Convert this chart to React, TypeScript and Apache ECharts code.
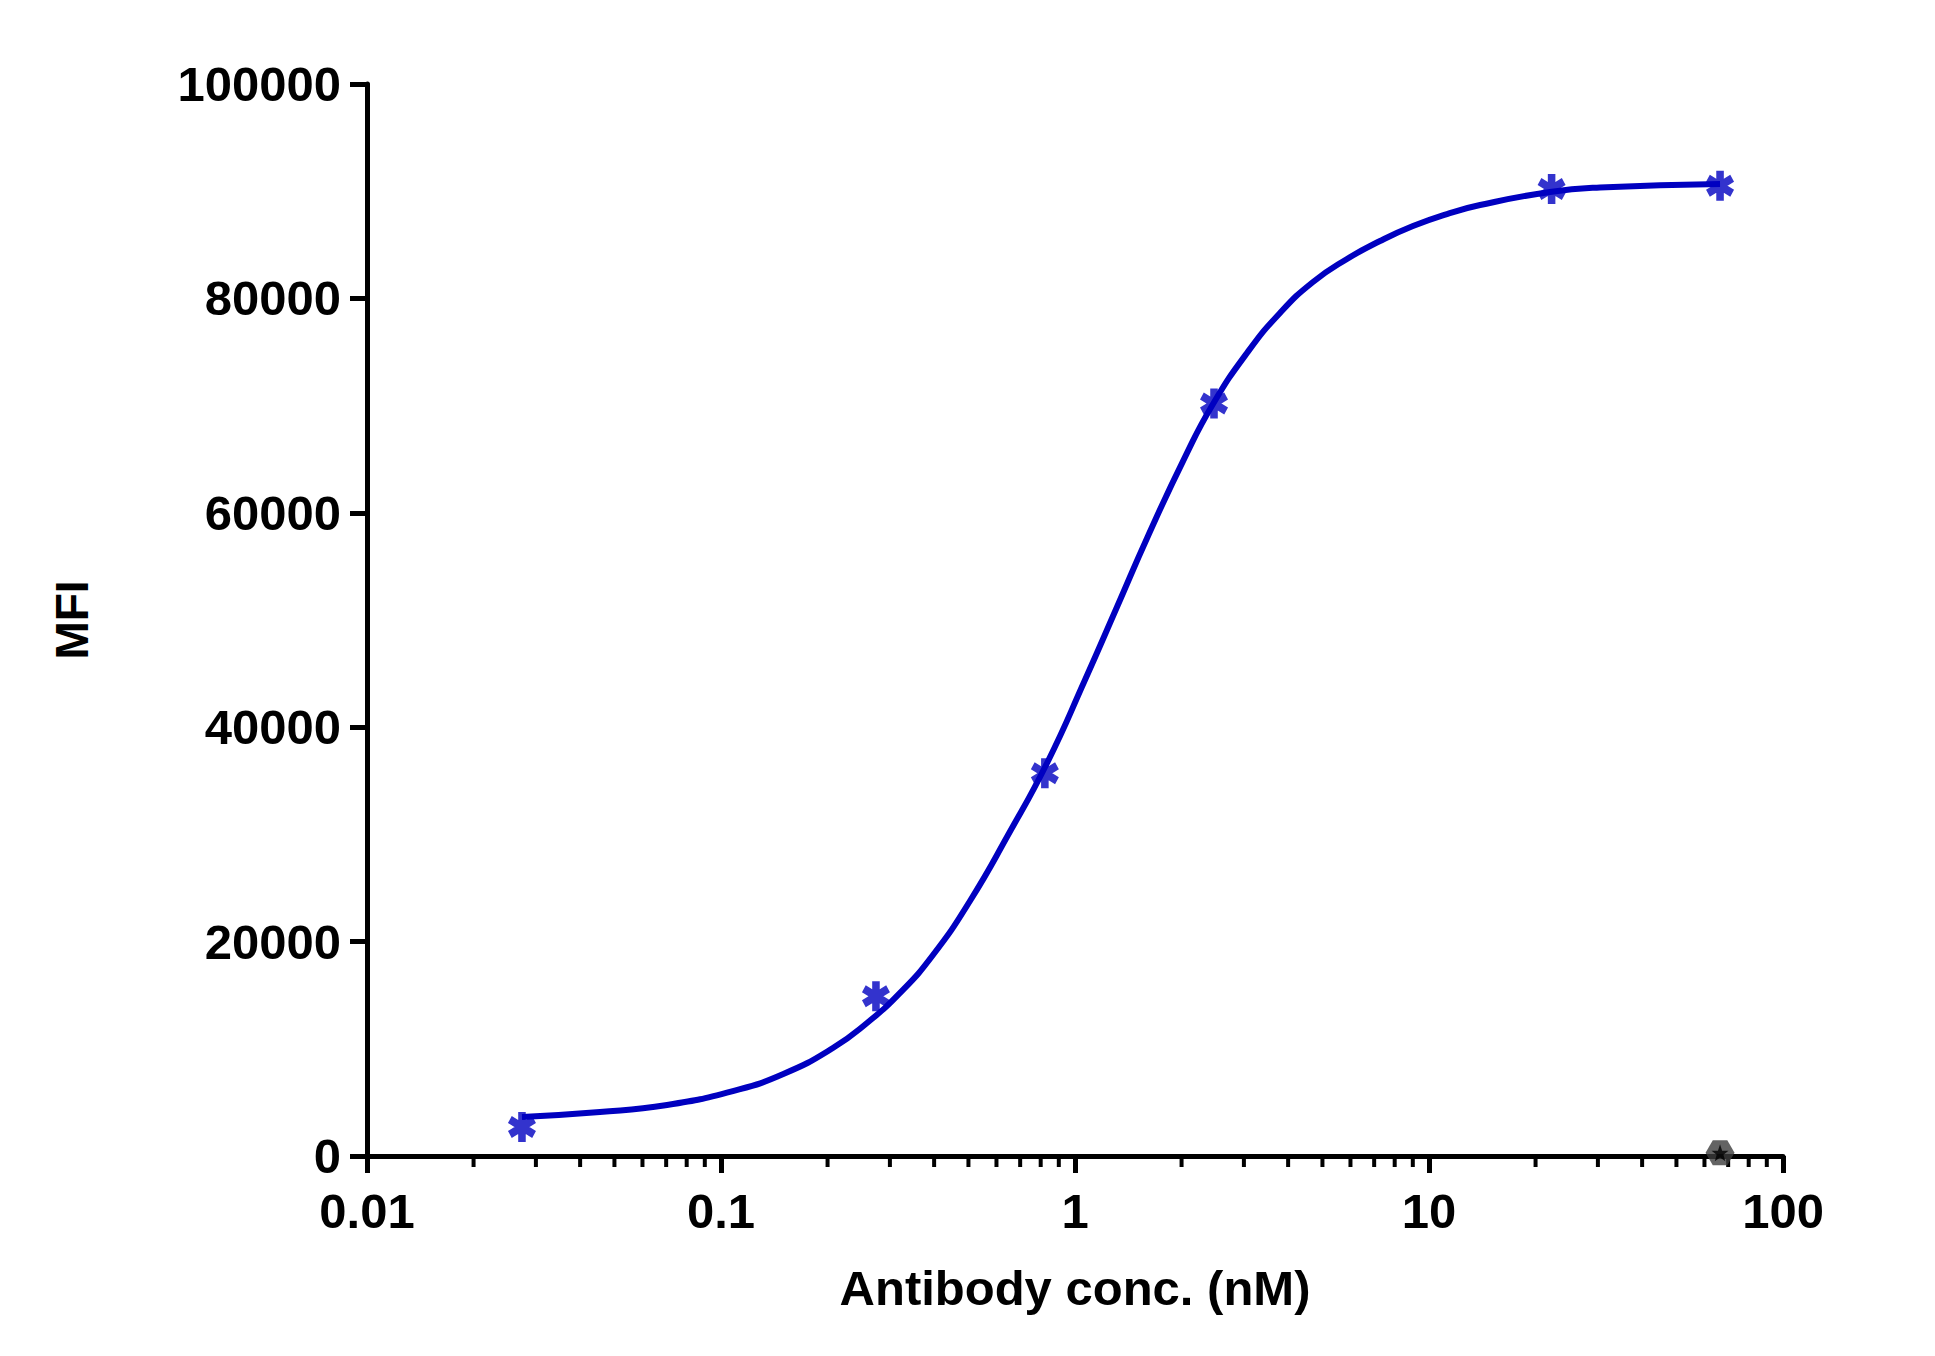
import { useEffect, useRef } from 'react'
import * as echarts from 'echarts'

// x axis (log, nM)
const xTicks = [0.01, 0.1, 1, 10, 100]
const xTickLabels = ['0.01', '0.1', '1', '10', '100']
const xMinorSteps = [2, 3, 4, 5, 6, 7, 8, 9]
const xDecades = [0.01, 0.1, 1, 10]

// measured points
const concentrations = [0.0274, 0.274, 0.822, 2.47, 22.2, 66.4]
const mfi = [2700, 14900, 35700, 70200, 90200, 90500]

// fitted curve
const fitConc = [
  0.0274, 0.0455, 0.0704, 0.108, 0.15, 0.207, 0.2585, 0.3204, 0.397, 0.505, 0.647, 0.834,
  1.067, 1.314, 1.608, 2.045, 2.454, 3.061, 3.794, 4.702, 5.866, 7.271, 9.01, 11.24, 13.94,
  21.97, 30.4, 66.4,
]
const fitMfi = [
  3640, 4100, 4760, 6060, 7650, 10070, 12410, 15210, 18750, 23790, 29940, 36660, 44400,
  51210, 57840, 65200, 70150, 74910, 78640, 81530, 83680, 85350, 86750, 87870, 88710,
  89930, 90350, 90670,
]

// control
const controlConc = [66.4]
const controlMfi = [300]

const BLUE = '#0000C0'
const FONT = '"Liberation Sans", Arial, Helvetica, sans-serif'

function asteriskPath(len = 10, w = 2.7) {
  const parts = [90, 30, 150].map((deg) => {
    const a = (deg * Math.PI) / 180
    const dx = Math.cos(a)
    const dy = Math.sin(a)
    const px = -dy
    const py = dx
    const pts = [
      [len * dx + w * px, len * dy + w * py],
      [len * dx - w * px, len * dy - w * py],
      [-len * dx - w * px, -len * dy - w * py],
      [-len * dx + w * px, -len * dy + w * py],
    ]
    return 'M' + pts.map((p) => p[0].toFixed(2) + ' ' + p[1].toFixed(2)).join(' L') + ' Z'
  })
  return 'path://' + parts.join(' ')
}

function polygonPath(n: number, r: number, rotDeg: number, inner?: number) {
  const pts: string[] = []
  const count = inner ? n * 2 : n
  for (let i = 0; i < count; i++) {
    const rad = inner && i % 2 === 1 ? inner : r
    const a = ((rotDeg + (360 / count) * i) * Math.PI) / 180
    pts.push((rad * Math.cos(a)).toFixed(2) + ' ' + (rad * Math.sin(a)).toFixed(2))
  }
  return 'path://M' + pts.join(' L') + ' Z'
}

export default function App() {
  const ref = useRef<HTMLDivElement>(null)

  useEffect(() => {
    if (!ref.current) return
    const chart = echarts.init(ref.current, undefined, { renderer: 'svg' })

    const minorTicks = xDecades.flatMap((d) => xMinorSteps.map((s) => [d * s, 0]))

    chart.setOption({
      animation: false,
      backgroundColor: '#fff',
      grid: { left: 367, top: 84, width: 1416, height: 1072 },
      xAxis: {
        type: 'log',
        logBase: 10,
        min: 0.01,
        max: 100,
        axisLine: { lineStyle: { color: '#000', width: 5 } },
        axisTick: { length: 17, lineStyle: { color: '#000', width: 5 } },
        splitLine: { show: false },
        minorTick: { show: false },
        axisLabel: {
          margin: 30,
          color: '#000',
          fontSize: 49,
          fontWeight: 'bold',
          fontFamily: FONT,
          formatter: (v: number) => {
            let best = 0
            xTicks.forEach((t, i) => {
              if (Math.abs(Math.log10(t) - Math.log10(v)) < Math.abs(Math.log10(xTicks[best]) - Math.log10(v))) best = i
            })
            return xTickLabels[best]
          },
        },
      },
      yAxis: {
        type: 'value',
        min: 0,
        max: 100000,
        interval: 20000,
        axisLine: { show: true, lineStyle: { color: '#000', width: 5 } },
        axisTick: { show: true, length: 17, lineStyle: { color: '#000', width: 5 } },
        splitLine: { show: false },
        axisLabel: {
          margin: 26,
          color: '#000',
          fontSize: 49,
          fontWeight: 'bold',
          fontFamily: FONT,
          formatter: (v: number) => String(v),
        },
      },
      graphic: [
        {
          type: 'text',
          x: 1075,
          y: 1288,
          style: {
            text: 'Antibody conc. (nM)',
            fill: '#000',
            fontSize: 49,
            fontWeight: 'bold',
            fontFamily: FONT,
            align: 'center',
            verticalAlign: 'middle',
          },
        },
        {
          type: 'text',
          x: 72,
          y: 620,
          rotation: Math.PI / 2,
          style: {
            text: 'MFI',
            fill: '#000',
            fontSize: 46,
            fontWeight: 'bold',
            fontFamily: FONT,
            align: 'center',
            verticalAlign: 'middle',
          },
        },
      ],
      series: [
        {
          type: 'custom',
          silent: true,
          clip: false,
          data: minorTicks,
          renderItem: (_p: any, api: any) => {
            const pt = api.coord([api.value(0), 0])
            return {
              type: 'line',
              shape: { x1: pt[0], y1: pt[1], x2: pt[0], y2: pt[1] + 11 },
              style: { stroke: '#000', lineWidth: 4 },
            }
          },
        },
        {
          name: 'fit',
          type: 'line',
          data: fitConc.map((c, i) => [c, fitMfi[i]]),
          smooth: 0.5,
          showSymbol: false,
          lineStyle: { color: BLUE, width: 6 },
          z: 3,
        },
        {
          name: 'data',
          type: 'scatter',
          data: concentrations.map((c, i) => [c, mfi[i]]),
          symbol: asteriskPath(),
          symbolSize: [28, 30],
          itemStyle: { color: BLUE },
          z: 4,
        },
        {
          name: 'control',
          type: 'scatter',
          data: controlConc.map((c, i) => [c, controlMfi[i]]),
          symbol: polygonPath(6, 10, 0),
          symbolSize: [29, 25],
          itemStyle: { color: '#3c3c3c' },
          z: 5,
        },
        {
          name: 'control-star',
          type: 'scatter',
          data: controlConc.map((c, i) => [c, controlMfi[i]]),
          symbol: polygonPath(5, 10, -90, 4),
          symbolSize: 17,
          itemStyle: { color: '#000' },
          z: 6,
        },
      ],
    })

    return () => chart.dispose()
  }, [])

  return (
    <div
      ref={ref}
      style={{ position: 'fixed', left: 0, top: 0, width: 1935, height: 1356, background: '#fff' }}
    />
  )
}
